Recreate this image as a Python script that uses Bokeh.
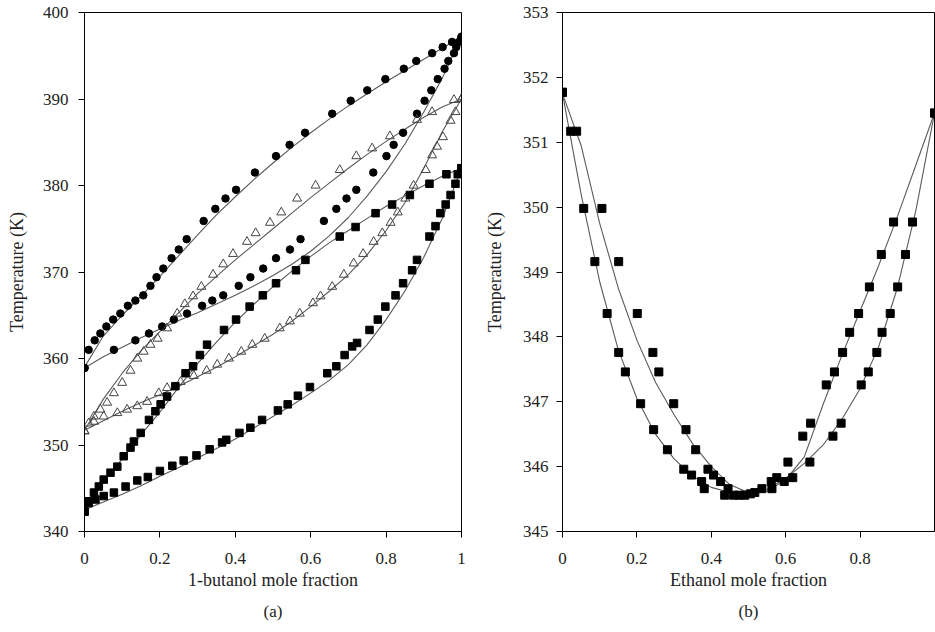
from bokeh.plotting import figure
from bokeh.layouts import row
from bokeh.models import FixedTicker, Title, Range1d
from bokeh.embed import file_html
from bokeh.resources import INLINE

# ---------------- Panel (a): 1-butanol systems ----------------
# circles
circ_T = [358.9, 361.0, 362.1, 362.9, 363.7, 364.5, 365.2, 366.1, 366.7, 367.3, 368.4, 369.4, 370.4, 371.6,
          372.6, 373.8, 375.9, 377.3, 378.5, 379.5, 381.5, 383.4, 384.7, 386.1, 388.3, 389.8, 391.0, 392.3,
          393.5, 394.4, 395.3, 396.0, 396.6, 397.2]
circ_x_dew = [0, 0.011, 0.027, 0.042, 0.058, 0.076, 0.095, 0.115, 0.135, 0.156, 0.175, 0.191, 0.209, 0.231,
              0.25, 0.271, 0.316, 0.347, 0.374, 0.402, 0.452, 0.508, 0.544, 0.585, 0.657, 0.706, 0.75, 0.798,
              0.847, 0.88, 0.922, 0.95, 0.975, 1.0]
circ_x_bub = [0, 0.078, 0.135, 0.171, 0.206, 0.237, 0.272, 0.312, 0.339, 0.368, 0.409, 0.44, 0.474, 0.508,
              0.545, 0.573, 0.635, 0.668, 0.695, 0.721, 0.766, 0.801, 0.82, 0.845, 0.882, 0.902, 0.92, 0.937,
              0.955, 0.965, 0.98, 0.986, 0.993, 1.0]

# triangles
tri_x_dew = [0, 0.011, 0.025, 0.042, 0.06, 0.078, 0.1, 0.122, 0.14, 0.157, 0.175, 0.194, 0.219, 0.246, 0.266,
             0.288, 0.31, 0.341, 0.368, 0.394, 0.431, 0.454, 0.492, 0.522, 0.564, 0.613, 0.677, 0.721, 0.763,
             0.81, 0.882, 0.922, 0.98, 1.0]
tri_T_dew = [351.6, 352.5, 353.3, 354.1, 354.9, 356.0, 357.2, 358.6, 360.0, 360.8, 361.6, 362.3, 363.5, 365.2,
             366.3, 367.2, 368.3, 369.7, 370.9, 372.1, 373.5, 374.5, 375.7, 376.9, 378.5, 380.0, 381.8, 383.4,
             384.3, 385.7, 387.6, 388.5, 389.9, 390.0]
tri_x_bub = [0, 0.025, 0.051, 0.087, 0.113, 0.14, 0.166, 0.197, 0.219, 0.255, 0.29, 0.324, 0.352, 0.383, 0.416,
             0.445, 0.478, 0.518, 0.545, 0.571, 0.606, 0.626, 0.657, 0.688, 0.714, 0.739, 0.767, 0.79, 0.812,
             0.831, 0.851, 0.873, 0.905, 0.922, 0.935, 0.951, 0.971, 0.984, 1.0]
tri_T_bub = [351.6, 352.7, 353.3, 353.7, 354.1, 354.5, 355.0, 356.0, 356.6, 357.3, 358.0, 358.6, 359.3, 360.0,
             360.8, 361.6, 362.3, 363.5, 364.3, 365.2, 366.4, 367.2, 368.3, 369.7, 371.0, 372.1, 373.5, 374.5,
             375.7, 376.9, 378.5, 380.0, 381.8, 383.5, 384.5, 385.6, 387.5, 388.5, 390.0]

# squares
sq_x_dew = [0, 0.007, 0.025, 0.038, 0.051, 0.069, 0.087, 0.104, 0.122, 0.131, 0.149, 0.171, 0.188, 0.202, 0.219,
            0.241, 0.268, 0.288, 0.306, 0.325, 0.37, 0.402, 0.438, 0.473, 0.508, 0.561, 0.586, 0.677, 0.719,
            0.772, 0.816, 0.863, 0.915, 0.96, 1.0]
sq_T_dew = [342.3, 343.5, 344.5, 345.2, 346.0, 346.8, 347.5, 348.7, 349.7, 350.4, 351.4, 352.9, 353.9, 354.7,
            355.6, 356.8, 358.3, 359.1, 360.4, 361.6, 363.3, 364.5, 366.0, 367.3, 368.7, 370.2, 371.4, 374.1,
            375.2, 376.8, 377.8, 378.9, 380.2, 381.3, 382.0]
sq_x_bub = [0, 0.011, 0.029, 0.051, 0.078, 0.109, 0.14, 0.168, 0.2, 0.233, 0.263, 0.297, 0.332, 0.365, 0.376,
            0.411, 0.44, 0.471, 0.513, 0.539, 0.566, 0.598, 0.644, 0.668, 0.69, 0.71, 0.723, 0.756, 0.778, 0.798,
            0.825, 0.845, 0.869, 0.882, 0.915, 0.931, 0.944, 0.958, 0.971, 0.984, 0.99, 1.0]
sq_T_bub = [342.3, 343.3, 343.7, 344.1, 344.5, 345.2, 345.9, 346.3, 347.0, 347.6, 348.2, 348.8, 349.5, 350.3,
            350.6, 351.4, 352.0, 352.9, 354.0, 354.7, 355.7, 356.7, 358.3, 359.1, 360.4, 361.4, 361.8, 363.3,
            364.5, 366.0, 367.3, 368.7, 370.2, 371.4, 374.1, 375.3, 376.8, 377.8, 378.9, 380.2, 381.3, 382.0]

# model curves (panel a), read at these mole fractions
model_x = [0, 0.05, 0.1, 0.15, 0.2, 0.25, 0.3, 0.35, 0.4, 0.45, 0.5, 0.55, 0.6, 0.65, 0.7, 0.75, 0.8, 0.85,
           0.9, 0.95, 1.0]
model_circ_dew = [359.0, 362.6, 365.0, 367.2, 369.5, 371.9, 374.3, 376.6, 378.7, 380.7, 382.6, 384.4, 386.1,
                  387.7, 389.2, 390.6, 392.0, 393.3, 394.6, 395.9, 397.2]
model_circ_bub = [358.9, 360.2, 361.3, 362.4, 363.4, 364.4, 365.3, 366.3, 367.3, 368.4, 369.6, 370.9, 372.4,
                  374.2, 376.3, 378.8, 381.6, 384.8, 388.5, 392.5, 397.2]
model_tri_dew = [351.7, 355.3, 358.3, 360.9, 363.1, 365.3, 367.5, 369.5, 371.4, 373.2, 375.0, 376.8, 378.6,
                 380.3, 382.0, 383.6, 385.1, 386.5, 387.9, 389.1, 390.0]
model_tri_bub = [351.7, 352.8, 353.9, 354.9, 355.8, 356.8, 357.9, 359.0, 360.2, 361.5, 362.8, 364.3, 366.0,
                 367.8, 369.7, 372.0, 374.8, 378.0, 382.0, 386.3, 390.0]
model_sq_dew = [342.5, 345.7, 348.4, 351.2, 353.8, 356.7, 359.4, 361.9, 364.2, 366.3, 368.3, 370.1, 371.8,
                373.4, 374.8, 376.2, 377.6, 378.8, 380.0, 381.1, 382.0]
model_sq_bub = [342.5, 343.4, 344.3, 345.3, 346.4, 347.4, 348.5, 349.6, 350.7, 352.0, 353.3, 354.6, 356.0,
                357.5, 359.3, 361.6, 364.5, 367.8, 371.7, 376.3, 382.0]

a_xticks = [0, 0.2, 0.4, 0.6, 0.8, 1]
a_xlabels = ["0", "0.2", "0.4", "0.6", "0.8", "1"]
a_yticks = [340, 350, 360, 370, 380, 390, 400]

# ---------------- Panel (b): ethanol azeotrope ----------------
b_x_bub = [0, 0.022, 0.057, 0.087, 0.12, 0.151, 0.169, 0.21, 0.245, 0.282, 0.326, 0.347, 0.374, 0.381, 0.436,
           0.475, 0.505, 0.563, 0.596, 0.619, 0.665, 0.727, 0.749, 0.803, 0.822, 0.845, 0.859, 0.881, 0.901,
           0.922, 0.941, 1.0]
b_T_bub = [351.77, 351.17, 349.98, 349.16, 348.36, 347.76, 347.46, 346.97, 346.57, 346.26, 345.96, 345.87, 345.77,
           345.66, 345.56, 345.56, 345.58, 345.66, 345.77, 345.83, 346.07, 346.47, 346.67, 347.26, 347.46, 347.76,
           348.07, 348.36, 348.77, 349.27, 349.77, 351.45]
b_x_dew = [0, 0.038, 0.106, 0.151, 0.201, 0.243, 0.259, 0.299, 0.332, 0.358, 0.391, 0.406, 0.425, 0.445, 0.46,
           0.49, 0.517, 0.536, 0.561, 0.576, 0.606, 0.646, 0.667, 0.709, 0.731, 0.753, 0.772, 0.796, 0.825, 0.857,
           0.89, 1.0]
b_T_dew = [351.77, 351.17, 349.98, 349.16, 348.36, 347.76, 347.46, 346.97, 346.57, 346.26, 345.96, 345.87, 345.77,
           345.66, 345.56, 345.56, 345.6, 345.66, 345.77, 345.83, 346.07, 346.47, 346.67, 347.26, 347.46, 347.76,
           348.07, 348.36, 348.77, 349.27, 349.77, 351.45]
b_model_x = [0, 0.05, 0.1, 0.15, 0.2, 0.25, 0.3, 0.35, 0.4, 0.45, 0.5, 0.55, 0.6, 0.65, 0.7, 0.75, 0.8, 0.85,
             0.9, 0.95, 1.0]
b_model_bub = [351.75, 350.2, 348.85, 347.8, 347.05, 346.5, 346.12, 345.85, 345.68, 345.6, 345.58, 345.65, 345.82,
               346.05, 346.33, 346.72, 347.2, 347.85, 348.75, 349.95, 351.45]
b_model_dew = [351.75, 350.95, 349.75, 348.75, 347.95, 347.3, 346.8, 346.35, 346.0, 345.72, 345.6, 345.62, 345.8,
               346.15, 346.95, 347.7, 348.4, 349.1, 349.85, 350.65, 351.45]

b_xticks = [0, 0.2, 0.4, 0.6, 0.8]
b_xlabels = ["0", "0.2", "0.4", "0.6", "0.8"]
b_yticks = [345, 346, 347, 348, 349, 350, 351, 352, 353]

FONT = "Liberation Serif"
LINE_COL = "#5a5a5a"
TXT_COL = "#222222"


def style(p, xticks, xlabels, yticks, xtitle, ytitle, ylab_standoff, ytitle_standoff):
    p.grid.visible = False
    p.outline_line_color = "black"
    p.outline_line_width = 1
    for ax in (p.xaxis[0], p.yaxis[0]):
        ax.axis_line_color = "black"
        ax.axis_line_width = 1
        ax.major_tick_line_color = "black"
        ax.major_tick_in = 0
        ax.major_tick_out = 6
        ax.minor_tick_line_color = None
        ax.major_label_text_font = FONT
        ax.major_label_text_font_size = "17px"
        ax.major_label_text_color = TXT_COL
        ax.axis_label_text_font = FONT
        ax.axis_label_text_font_size = "18px"
        ax.axis_label_text_font_style = "normal"
        ax.axis_label_text_color = TXT_COL
    p.xaxis[0].ticker = FixedTicker(ticks=xticks)
    p.xaxis[0].major_label_overrides = {t: l for t, l in zip(xticks, xlabels)}
    p.yaxis[0].ticker = FixedTicker(ticks=yticks)
    p.xaxis[0].axis_label = xtitle
    p.yaxis[0].axis_label = ytitle
    p.xaxis[0].major_label_standoff = 15
    p.xaxis[0].axis_label_standoff = 3
    p.yaxis[0].major_label_standoff = ylab_standoff
    p.yaxis[0].axis_label_standoff = ytitle_standoff


# ---- figure a ----
pa = figure(width=481, height=632, output_backend="svg", toolbar_location=None,
            x_range=Range1d(0, 1), y_range=Range1d(340, 400),
            min_border_left=84, min_border_right=20, min_border_top=12, min_border_bottom=99)
style(pa, a_xticks, a_xlabels, a_yticks, "1-butanol mole fraction", "Temperature (K)", 10, 13)

for ys in (model_circ_dew, model_circ_bub, model_tri_dew, model_tri_bub, model_sq_dew, model_sq_bub):
    pa.line(model_x, ys, line_color=LINE_COL, line_width=1.1)

pa.scatter(circ_x_dew, circ_T, marker="circle", size=7.5, fill_color="black", line_color="black")
pa.scatter(circ_x_bub, circ_T, marker="circle", size=7.5, fill_color="black", line_color="black")
pa.scatter(tri_x_dew, tri_T_dew, marker="triangle", size=9, fill_color="white", fill_alpha=0.0,
           line_color="#444444", line_width=1)
pa.scatter(tri_x_bub, tri_T_bub, marker="triangle", size=9, fill_color="white", fill_alpha=0.0,
           line_color="#444444", line_width=1)
pa.scatter(sq_x_dew, sq_T_dew, marker="square", size=7.5, fill_color="black", line_color="black")
pa.scatter(sq_x_bub, sq_T_bub, marker="square", size=7.5, fill_color="black", line_color="black")

ta = Title(text="(a)", align="center", text_font=FONT, text_font_size="17px", text_font_style="normal",
           text_color=TXT_COL, standoff=15)
pa.add_layout(ta, "below")

# ---- figure b ----
pb = figure(width=454, height=632, output_backend="svg", toolbar_location=None,
            x_range=Range1d(0, 1), y_range=Range1d(345, 353),
            min_border_left=80, min_border_right=1, min_border_top=10, min_border_bottom=101)
style(pb, b_xticks, b_xlabels, b_yticks, "Ethanol mole fraction", "Temperature (K)", 8, 15)

pb.line(b_model_x, b_model_bub, line_color=LINE_COL, line_width=1.1)
pb.line(b_model_x, b_model_dew, line_color=LINE_COL, line_width=1.1)
pb.scatter(b_x_bub, b_T_bub, marker="square", size=8, fill_color="black", line_color="black")
pb.scatter(b_x_dew, b_T_dew, marker="square", size=8, fill_color="black", line_color="black")

tb = Title(text="(b)", align="center", text_font=FONT, text_font_size="17px", text_font_style="normal",
           text_color=TXT_COL, standoff=15)
pb.add_layout(tb, "below")

layout = row(pa, pb, spacing=0)
open("out.html", "w").write(file_html(layout, INLINE))
